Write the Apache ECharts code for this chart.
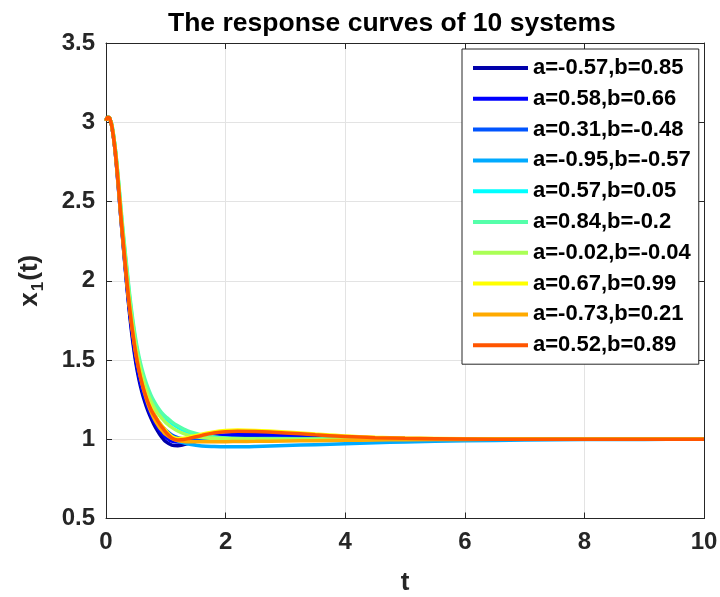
<!DOCTYPE html>
<html>
<head>
<meta charset="utf-8">
<script src="https://cdn.jsdelivr.net/npm/echarts@6/dist/echarts.min.js"></script>
<style>html,body{margin:0;padding:0;background:#fff}#c{width:720px;height:597px}</style>
</head>
<body>
<div id="c"></div>
<script>
var T = [0,0.025,0.05,0.075,0.1,0.15,0.2,0.25,0.3,0.35,0.4,0.45,0.5,0.55,0.6,0.65,0.7,0.75,0.8,0.85,0.9,0.95,1.0,1.1,1.2,1.3,1.4,1.6,1.8,2.0,2.2,2.5,3.0,3.5,4.0,4.5,5.0,6.0,7.0,8.0,9.0,10.0];

var names = ['a=-0.57,b=0.85','a=0.58,b=0.66','a=0.31,b=-0.48','a=-0.95,b=-0.57','a=0.57,b=0.05','a=0.84,b=-0.2','a=-0.02,b=-0.04','a=0.67,b=0.99','a=-0.73,b=0.21','a=0.52,b=0.89'];

var colors = ['#0000AA','#0000FF','#0055FF','#00AAFF','#00FFFF','#55FFAA','#AAFF55','#FFFF00','#FFAA00','#FF5500'];

var y1 = [3.01,3.03,3.03,3.01,2.97,2.83,2.62,2.39,2.17,1.96,1.77,1.61,1.48,1.38,1.30,1.235,1.18,1.135,1.095,1.06,1.03,1.005,0.985,0.963,0.959,0.966,0.976,0.993,1.003,1.008,1.01,1.01,1.008,1.005,1.003,1.002,1.001,1.0,1.0,1.0,1.0,1.0];
var y2 = [3.01,3.03,3.03,3.01,2.97,2.83,2.62,2.39,2.18,1.97,1.79,1.63,1.50,1.40,1.32,1.255,1.20,1.155,1.115,1.082,1.055,1.032,1.013,0.988,0.982,0.984,0.992,1.008,1.02,1.027,1.03,1.03,1.025,1.018,1.012,1.008,1.005,1.002,1.0,1.0,1.0,1.0];
var y3 = [3.01,3.03,3.03,3.01,2.97,2.84,2.64,2.42,2.21,2.01,1.83,1.68,1.555,1.455,1.37,1.30,1.245,1.20,1.16,1.127,1.10,1.077,1.057,1.027,1.01,1.001,0.997,0.998,1.001,1.004,1.006,1.007,1.006,1.004,1.003,1.002,1.001,1.0,1.0,1.0,1.0,1.0];
var y4 = [3.01,3.03,3.03,3.01,2.97,2.84,2.64,2.42,2.21,2.01,1.83,1.68,1.555,1.455,1.37,1.30,1.24,1.19,1.15,1.115,1.086,1.062,1.04,1.01,0.99,0.977,0.968,0.958,0.954,0.952,0.952,0.954,0.96,0.966,0.972,0.978,0.983,0.99,0.995,0.998,0.999,1.0];
var y5 = [3.01,3.03,3.03,3.01,2.98,2.85,2.66,2.44,2.24,2.06,1.88,1.73,1.605,1.505,1.425,1.36,1.305,1.26,1.225,1.197,1.173,1.153,1.135,1.10,1.075,1.055,1.04,1.022,1.012,1.006,1.003,1.001,1.0,1.0,1.0,1.0,1.0,1.0,1.0,1.0,1.0,1.0];
var y6 = [3.01,3.03,3.03,3.01,2.98,2.85,2.67,2.46,2.26,2.08,1.90,1.75,1.625,1.525,1.445,1.38,1.325,1.28,1.242,1.21,1.183,1.16,1.142,1.11,1.085,1.065,1.048,1.027,1.015,1.008,1.004,1.002,1.001,1.0,1.0,1.0,1.0,1.0,1.0,1.0,1.0,1.0];
var y7 = [3.01,3.03,3.03,3.01,2.98,2.85,2.66,2.44,2.23,2.04,1.86,1.71,1.585,1.485,1.405,1.34,1.285,1.24,1.203,1.172,1.147,1.125,1.105,1.075,1.052,1.036,1.024,1.011,1.005,1.003,1.002,1.001,1.0,1.0,1.0,1.0,1.0,1.0,1.0,1.0,1.0,1.0];
var y8 = [3.01,3.03,3.03,3.01,2.97,2.83,2.63,2.40,2.19,1.99,1.815,1.67,1.545,1.445,1.365,1.30,1.245,1.20,1.162,1.13,1.103,1.078,1.055,1.018,1.005,1.006,1.013,1.032,1.046,1.055,1.058,1.056,1.046,1.033,1.021,1.013,1.008,1.003,1.001,1.0,1.0,1.0];
var y9 = [3.01,3.03,3.03,3.01,2.97,2.84,2.64,2.41,2.20,2.0,1.82,1.67,1.545,1.44,1.355,1.285,1.225,1.175,1.135,1.10,1.072,1.05,1.03,1.005,0.992,0.986,0.984,0.984,0.985,0.985,0.986,0.987,0.989,0.991,0.993,0.995,0.997,0.999,1.0,1.0,1.0,1.0];
var y10 = [3.01,3.03,3.03,3.01,2.97,2.83,2.63,2.40,2.19,1.99,1.81,1.66,1.535,1.435,1.355,1.29,1.235,1.19,1.155,1.125,1.095,1.07,1.045,1.008,0.996,0.998,1.006,1.024,1.039,1.048,1.051,1.049,1.04,1.028,1.017,1.01,1.006,1.002,1.0,1.0,1.0,1.0];

var Y = [y1,y2,y3,y4,y5,y6,y7,y8,y9,y10];

var xTicks = {min:0, max:10, interval:2};
var yTicks = {min:0.5, max:3.5, interval:0.5};

var FONT = "'Liberation Sans', Arial, Helvetica, sans-serif";
var AX = '#262626';

var series = Y.map(function(ys, i){
  return {
    name: names[i],
    type: 'line',
    data: T.map(function(t, j){ return [t, ys[j]]; }),
    showSymbol: false,
    smooth: 0.35,
    lineStyle: {width: 3.5, color: colors[i]},
    itemStyle: {color: colors[i]},
    z: 2 + i
  };
});

var chart = echarts.init(document.getElementById('c'), null, {renderer:'canvas'});
chart.setOption({
  animation: false,
  backgroundColor: '#fff',
  title: {
    text: 'The response curves of 10 systems',
    left: 163, top: 5,
    textStyle: {fontFamily: FONT, fontSize: 26.5, fontWeight: 'bold', color: '#000'}
  },
  grid: {left: 106, top: 43, right: 16, bottom: 78.5, containLabel: false, outerBoundsMode: 'none'},
  legend: {
    orient: 'vertical',
    left: 462, top: 49,
    padding: [8, 8, 8, 11],
    itemGap: 8.8,
    itemWidth: 55, itemHeight: 4,
    icon: 'rect',
    backgroundColor: '#fff',
    borderColor: AX, borderWidth: 1, borderRadius: 0,
    textStyle: {fontFamily: FONT, fontSize: 22, fontWeight: 'bold', color: '#000', lineHeight: 22},
    data: names
  },
  xAxis: [{
    type: 'value', min: xTicks.min, max: xTicks.max, interval: xTicks.interval,
    name: 't', nameLocation: 'middle', nameGap: 51,
    nameTextStyle: {fontFamily: FONT, fontSize: 26, fontWeight: 'bold', color: AX},
    axisLine: {show: true, onZero: false, lineStyle: {color: AX, width: 1}},
    axisTick: {show: true, inside: true, length: 6, lineStyle: {color: AX}},
    axisLabel: {fontFamily: FONT, fontSize: 24, fontWeight: 'bold', color: AX, margin: 12},
    splitLine: {show: true, lineStyle: {color: '#e3e3e3', width: 1}}
  },{
    type: 'value', position: 'top', min: xTicks.min, max: xTicks.max, interval: xTicks.interval,
    axisLine: {show: true, onZero: false, lineStyle: {color: AX, width: 1}},
    axisTick: {show: true, inside: true, length: 6, lineStyle: {color: AX}},
    axisLabel: {show: false}, splitLine: {show: false}
  }],
  yAxis: [{
    type: 'value', min: yTicks.min, max: yTicks.max, interval: yTicks.interval,
    name: '{m|x}{s|1}{m|(t)}', nameLocation: 'middle', nameRotate: 90, nameGap: 61,
    nameTextStyle: {
      rich: {
        m: {fontFamily: FONT, fontSize: 26, fontWeight: 'bold', color: AX, lineHeight: 28, verticalAlign: 'top'},
        s: {fontFamily: FONT, fontSize: 17, fontWeight: 'bold', color: AX, lineHeight: 28, verticalAlign: 'top', padding: [13, 1, 0, 1]}
      }
    },
    axisLine: {show: true, onZero: false, lineStyle: {color: AX, width: 1}},
    axisTick: {show: true, inside: true, length: 6, lineStyle: {color: AX}},
    axisLabel: {fontFamily: FONT, fontSize: 24, fontWeight: 'bold', color: AX, margin: 11},
    splitLine: {show: true, lineStyle: {color: '#e3e3e3', width: 1}}
  },{
    type: 'value', position: 'right', min: yTicks.min, max: yTicks.max, interval: yTicks.interval,
    axisLine: {show: true, onZero: false, lineStyle: {color: AX, width: 1}},
    axisTick: {show: true, inside: true, length: 6, lineStyle: {color: AX}},
    axisLabel: {show: false}, splitLine: {show: false}
  }],
  series: series
});
</script>
</body>
</html>
